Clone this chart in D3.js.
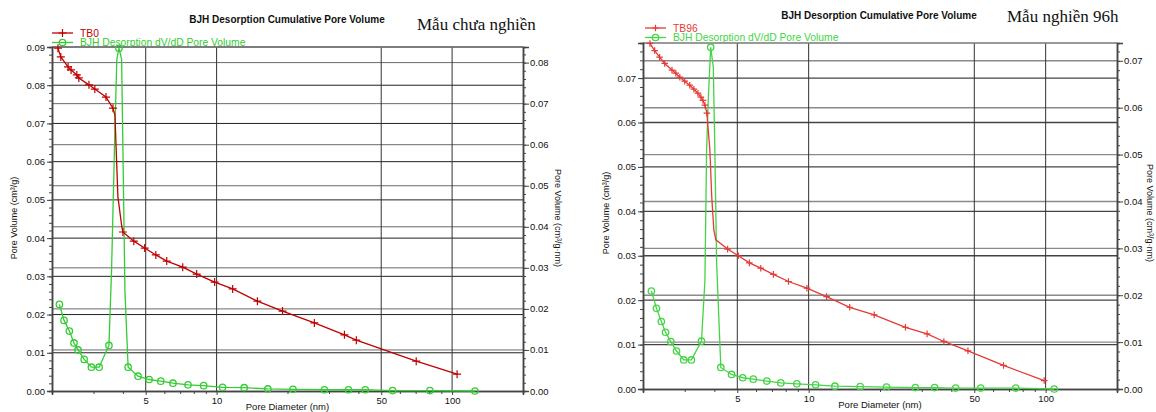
<!DOCTYPE html>
<html>
<head>
<meta charset="utf-8">
<script src="https://cdn.jsdelivr.net/npm/d3@7"></script>
<style>
  body { margin: 0; background: #fff; }
  svg { display: block; font-family: "Liberation Sans", Arial, sans-serif; }
</style>
</head>
<body>
<div id="chart"></div>
<script>
// ---- data ----
// pore diameter in nm, volume in cm3/g, dV/dD in cm3/g.nm

// TB0 cumulative pore volume (left axis), marked points
const tb0Diam = [2.12, 2.18, 2.34, 2.41, 2.55, 2.60, 2.87, 3.04, 3.39, 3.63, 4.00, 4.45, 4.95, 5.52, 6.14, 7.18, 8.23, 9.81, 11.7, 14.9, 19.05, 26.0, 34.9, 39.2, 70.4, 105]
const tb0Vol  = [0.0897, 0.0874, 0.0848, 0.0840, 0.0827, 0.0819, 0.0801, 0.0790, 0.0769, 0.0740, 0.0416, 0.0392, 0.0374, 0.0356, 0.0340, 0.0324, 0.0306, 0.0285, 0.0267, 0.0235, 0.0209, 0.0178, 0.0147, 0.0133, 0.0078, 0.0044]
// steep drop of TB0 (line only, no marker)
const tb0DropDiam = [3.70, 3.72, 3.81, 3.96]
const tb0DropVol  = [0.0722, 0.0683, 0.0508, 0.0429]

// TB0 dV/dD (right axis)
const tb0dvDiam = [2.15, 2.25, 2.37, 2.48, 2.58, 2.74, 2.94, 3.17, 3.49, 3.85, 4.21, 4.64, 5.17, 5.79, 6.53, 7.56, 8.81, 10.6, 13.1, 16.5, 21.1, 28.7, 36.3, 42.8, 55.9, 80.5, 125]
const tb0dvVal  = [0.0211, 0.0172, 0.0146, 0.0117, 0.0100, 0.0077, 0.0058, 0.0058, 0.0111, 0.0835, 0.0058, 0.0036, 0.0028, 0.0024, 0.0019, 0.0015, 0.0013, 0.0009, 0.0008, 0.0005, 0.0004, 0.0003, 0.0003, 0.0003, 0.0001, 0.0001, 0.0000]
const tb0dvPeakDiam = [3.58, 3.70, 3.77, 3.95, 3.99, 4.08]
const tb0dvPeakVal  = [0.0294, 0.0637, 0.0808, 0.0808, 0.0637, 0.0245]

// TB96 cumulative pore volume (left axis)
const tb96Diam = [2.14, 2.24, 2.35, 2.47, 2.65, 2.75, 2.86, 3.00, 3.15, 3.28, 3.41, 3.51, 3.58, 3.65, 3.72, 4.55, 5.05, 5.62, 6.28, 7.10, 8.22, 9.83, 11.9, 14.9, 18.9, 25.6, 31.6, 37.2, 47.0, 66.4, 98.6]
const tb96Vol  = [0.0778, 0.0762, 0.0747, 0.0733, 0.0718, 0.0711, 0.0702, 0.0693, 0.0684, 0.0675, 0.0666, 0.0657, 0.0650, 0.0639, 0.0621, 0.0315, 0.0300, 0.0284, 0.0272, 0.0258, 0.0242, 0.0227, 0.0208, 0.0184, 0.0167, 0.0139, 0.0124, 0.0107, 0.0086, 0.0053, 0.0019]
const tb96DropDiam = [3.83, 3.90, 3.98, 4.06]
const tb96DropVol  = [0.0538, 0.0433, 0.0358, 0.0336]

// TB96 dV/dD (right axis)
const tb96dvDiam = [2.17, 2.28, 2.39, 2.49, 2.62, 2.77, 2.97, 3.20, 3.53, 3.86, 4.26, 4.73, 5.27, 5.84, 6.66, 7.63, 8.92, 10.7, 12.9, 16.5, 21.3, 28.2, 34.0, 41.7, 53.2, 74.8, 108.7]
const tb96dvVal  = [0.0209, 0.0172, 0.0144, 0.0121, 0.0101, 0.0081, 0.0062, 0.0062, 0.0102, 0.0729, 0.0046, 0.0031, 0.0024, 0.0021, 0.0017, 0.0013, 0.0011, 0.0009, 0.0006, 0.0005, 0.0004, 0.0003, 0.0003, 0.0002, 0.0002, 0.0002, 0.0000]
const tb96dvPeakDiam = [3.65, 3.71, 3.77, 3.96, 4.02, 4.09]
const tb96dvPeakVal  = [0.0232, 0.0510, 0.0616, 0.0687, 0.0510, 0.0269]

// ticks / labels
const xDomain = [2, 200]
const xMajorTicks = [5, 10, 50, 100]
const xMinorTicks = [3, 4, 6, 7, 8, 9, 20, 30, 40, 60, 70, 80, 90]
const tb0LeftTicks  = [0, 0.01, 0.02, 0.03, 0.04, 0.05, 0.06, 0.07, 0.08, 0.09]
const tb0RightTicks = [0, 0.01, 0.02, 0.03, 0.04, 0.05, 0.06, 0.07, 0.08]
const tb96LeftTicks  = [0, 0.01, 0.02, 0.03, 0.04, 0.05, 0.06, 0.07]
const tb96RightTicks = [0, 0.01, 0.02, 0.03, 0.04, 0.05, 0.06, 0.07]
const chartTitle = 'BJH Desorption Cumulative Pore Volume'
const xTitle = 'Pore Diameter (nm)'
const yLeftTitle = 'Pore Volume (cm³/g)'
const yRightTitle = 'Pore Volume (cm³/g·nm)'
const dvName = 'BJH Desorption dV/dD Pore Volume'

const zip = (a, b) => a.map((d, i) => [d, b[i]])

// panel settings
const panels = [
  {
    x0: 52, x1: 523, y0: 47, y1: 391,
    leftMax: 0.09, rightMax: 0.0838,
    leftTicks: tb0LeftTicks, rightTicks: tb0RightTicks,
    name: 'TB0', note: 'Mẫu chưa nghiền',
    vol: zip(tb0Diam, tb0Vol), drop: zip(tb0DropDiam, tb0DropVol),
    dv: zip(tb0dvDiam, tb0dvVal), peak: zip(tb0dvPeakDiam, tb0dvPeakVal),
    red: '#c00000', green: '#33cc33', plus: 4,
    gridL: '#222', gridR: '#6a6a6a', gridW: 1,
    titleX: 287, titleY: 23, noteX: 417, noteY: 30,
    legX: 52, legY: 33, yTitleLX: 15, yTitleRX: 557, yTitleY: 218
  },
  {
    x0: 643, x1: 1117, y0: 43, y1: 389,
    leftMax: 0.0779, rightMax: 0.0738,
    leftTicks: tb96LeftTicks, rightTicks: tb96RightTicks,
    name: 'TB96', note: 'Mẫu nghiền 96h',
    vol: zip(tb96Diam, tb96Vol), drop: zip(tb96DropDiam, tb96DropVol),
    dv: zip(tb96dvDiam, tb96dvVal), peak: zip(tb96dvPeakDiam, tb96dvPeakVal),
    red: '#e53a35', green: '#44d444', plus: 3.3,
    gridL: '#444', gridR: '#8a8a8a', gridW: 1.4,
    titleX: 879, titleY: 19, noteX: 1007, noteY: 22,
    legX: 645, legY: 28, yTitleLX: 607, yTitleRX: 1149, yTitleY: 213
  }
]

const fmt = d3.format('.2f')

const svg = d3.select('#chart')
  .append('svg')
  .attr('width', 1156)
  .attr('height', 412)

panels.forEach(p => drawPanel(p))

function drawPanel(p) {
  const x = d3.scaleLog().domain(xDomain).range([p.x0, p.x1])
  const yL = d3.scaleLinear().domain([0, p.leftMax]).range([p.y1, p.y0])
  const yR = d3.scaleLinear().domain([0, p.rightMax]).range([p.y1, p.y0])

  const g = svg.append('g')

  // horizontal grid, right axis ticks (grey) then left axis ticks (dark)
  g.append('g').selectAll('line')
    .data(p.rightTicks.filter(d => d > 0))
    .join('line')
      .attr('x1', p.x0).attr('x2', p.x1)
      .attr('y1', d => yR(d)).attr('y2', d => yR(d))
      .attr('stroke', p.gridR).attr('stroke-width', p.gridW)
  g.append('g').selectAll('line')
    .data(p.leftTicks.filter(d => d > 0))
    .join('line')
      .attr('x1', p.x0).attr('x2', p.x1)
      .attr('y1', d => yL(d)).attr('y2', d => yL(d))
      .attr('stroke', p.gridL).attr('stroke-width', p.gridW)
  // vertical grid
  g.append('g').selectAll('line')
    .data(xMajorTicks)
    .join('line')
      .attr('x1', d => x(d)).attr('x2', d => x(d))
      .attr('y1', p.y0).attr('y2', p.y1)
      .attr('stroke', '#333').attr('stroke-width', 1)
  // top frame
  g.append('line')
    .attr('x1', p.x0).attr('x2', p.x1).attr('y1', p.y0).attr('y2', p.y0)
    .attr('stroke', '#777').attr('stroke-width', 1.5)

  // axes
  const minorL = d3.range(0, p.leftMax + 1e-9, 0.002)
  const minorR = d3.range(0, p.rightMax + 1e-9, 0.002)

  g.append('g').attr('class', 'axis')
    .attr('transform', `translate(${p.x0},0)`)
    .call(d3.axisLeft(yL).tickValues(p.leftTicks).tickFormat(fmt).tickSize(5).tickPadding(2))
  g.append('g').attr('class', 'axis minor')
    .attr('transform', `translate(${p.x0},0)`)
    .call(d3.axisLeft(yL).tickValues(minorL).tickFormat('').tickSize(3))

  g.append('g').attr('class', 'axis')
    .attr('transform', `translate(${p.x1},0)`)
    .call(d3.axisRight(yR).tickValues(p.rightTicks).tickFormat(fmt).tickSize(6).tickPadding(1))
  g.append('g').attr('class', 'axis minor')
    .attr('transform', `translate(${p.x1},0)`)
    .call(d3.axisRight(yR).tickValues(minorR).tickFormat('').tickSize(3))

  g.append('g').attr('class', 'axis')
    .attr('transform', `translate(0,${p.y1})`)
    .call(d3.axisBottom(x).tickValues(xMajorTicks).tickFormat(d3.format('d')).tickSize(4).tickPadding(2))
  g.append('g').attr('class', 'axis minor')
    .attr('transform', `translate(0,${p.y1})`)
    .call(d3.axisBottom(x).tickValues(xMinorTicks).tickFormat('').tickSize(3))

  g.selectAll('.axis path').attr('stroke', '#444').attr('stroke-width', 1.5)
  g.selectAll('.axis line').attr('stroke', '#444')
  g.selectAll('.axis text').attr('font-size', '9.5px').attr('fill', '#111')
    .attr('font-family', '"Liberation Sans", Arial, sans-serif')

  // curves
  const volLine = d3.line().x(d => x(d[0])).y(d => yL(d[1]))
  const dvLine = d3.line().x(d => x(d[0])).y(d => yR(d[1]))

  const volAll = p.vol.concat(p.drop).sort((a, b) => a[0] - b[0])
  const dvAll = p.dv.concat(p.peak).sort((a, b) => a[0] - b[0])

  const plot = g.append('g')

  plot.append('path')
    .attr('d', dvLine(dvAll))
    .attr('fill', 'none')
    .attr('stroke', p.green)
    .attr('stroke-width', 1.3)

  plot.selectAll('circle')
    .data(p.dv)
    .join('circle')
      .attr('cx', d => x(d[0]))
      .attr('cy', d => yR(d[1]))
      .attr('r', 3.2)
      .attr('fill', 'none')
      .attr('stroke', p.green)
      .attr('stroke-width', 1.3)

  plot.append('path')
    .attr('d', volLine(volAll))
    .attr('fill', 'none')
    .attr('stroke', p.red)
    .attr('stroke-width', 1.3)

  plot.selectAll('.plus')
    .data(p.vol)
    .join('path')
      .attr('class', 'plus')
      .attr('d', d => {
        const cx = x(d[0]), cy = yL(d[1]), s = p.plus
        return `M${cx - s},${cy}H${cx + s}M${cx},${cy - s}V${cy + s}`
      })
      .attr('stroke', p.red)
      .attr('stroke-width', 1.2)

  // legend
  const leg = g.append('g')
  leg.append('line')
    .attr('x1', p.legX).attr('x2', p.legX + 21)
    .attr('y1', p.legY).attr('y2', p.legY)
    .attr('stroke', p.red).attr('stroke-width', 1.3)
  leg.append('path')
    .attr('d', `M${p.legX + 10.5 - p.plus},${p.legY}H${p.legX + 10.5 + p.plus}M${p.legX + 10.5},${p.legY - p.plus}V${p.legY + p.plus}`)
    .attr('stroke', p.red).attr('stroke-width', 1.2)
  leg.append('text')
    .attr('x', p.legX + 28).attr('y', p.legY + 3.5)
    .attr('font-size', '10.3px').attr('fill', p.red)
    .text(p.name)

  leg.append('line')
    .attr('x1', p.legX).attr('x2', p.legX + 21)
    .attr('y1', p.legY + 9.5).attr('y2', p.legY + 9.5)
    .attr('stroke', p.green).attr('stroke-width', 1.3)
  leg.append('circle')
    .attr('cx', p.legX + 10.5).attr('cy', p.legY + 9.5).attr('r', 3.2)
    .attr('fill', 'none').attr('stroke', p.green).attr('stroke-width', 1.3)
  leg.append('text')
    .attr('x', p.legX + 28).attr('y', p.legY + 13)
    .attr('font-size', '10.3px').attr('fill', p.green)
    .text(dvName)

  // titles
  g.append('text')
    .attr('x', p.titleX).attr('y', p.titleY)
    .attr('text-anchor', 'middle')
    .attr('font-size', '10px').attr('font-weight', 'bold').attr('fill', '#111')
    .text(chartTitle)
  g.append('text')
    .attr('x', p.noteX).attr('y', p.noteY)
    .attr('font-family', '"Liberation Serif", "Times New Roman", serif')
    .attr('font-size', '17px').attr('fill', '#111')
    .text(p.note)

  g.append('text')
    .attr('x', (p.x0 + p.x1) / 2).attr('y', p.y1 + 19)
    .attr('text-anchor', 'middle')
    .attr('font-size', '9.5px').attr('fill', '#111')
    .text(xTitle)

  g.append('text')
    .attr('transform', `translate(${p.yTitleLX},${p.yTitleY}) rotate(-90)`)
    .attr('text-anchor', 'middle').attr('dominant-baseline', 'middle')
    .attr('font-size', '9px').attr('fill', '#111')
    .text(yLeftTitle)
  g.append('text')
    .attr('transform', `translate(${p.yTitleRX},${p.yTitleY}) rotate(90)`)
    .attr('text-anchor', 'middle').attr('dominant-baseline', 'middle')
    .attr('font-size', '9px').attr('fill', '#111')
    .text(yRightTitle)
}
</script>
</body>
</html>
